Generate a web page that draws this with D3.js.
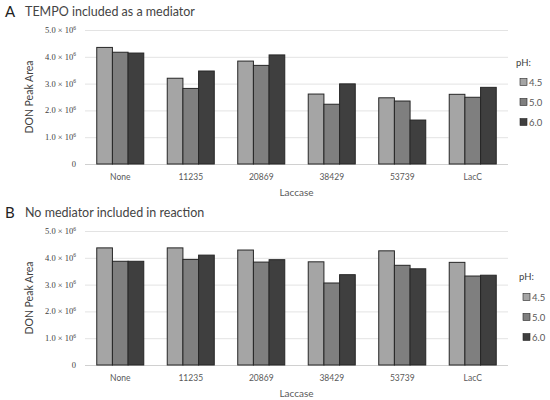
<!DOCTYPE html>
<html>
<head>
<meta charset="utf-8">
<script src="https://cdn.jsdelivr.net/npm/d3@7"></script>
<style>
  body { margin: 0; background: #fff; }
  svg { display: block; }
  text { font-family: Lato, "Open Sans", sans-serif; }
</style>
</head>
<body>
<svg id="chart" width="550" height="400"></svg>
<script>
// Data (DON peak area, x 10^6)
const laccases = ['None', '11235', '20869', '38429', '53739', 'LacC'];
const phLevels = ['4.5', '5.0', '6.0'];
const phColors = ['#a5a5a5', '#7f7f7f', '#3f3f3f'];
const yTicks = [0, 1, 2, 3, 4, 5];

// Panel A: TEMPO as mediator
const tempoPh45 = [4.35, 3.20, 3.84, 2.61, 2.47, 2.60];
const tempoPh50 = [4.17, 2.82, 3.68, 2.23, 2.35, 2.49];
const tempoPh60 = [4.14, 3.47, 4.07, 2.99, 1.64, 2.86];

// Panel B: no mediator
const noMedPh45 = [4.37, 4.37, 4.29, 3.85, 4.26, 3.83];
const noMedPh50 = [3.87, 3.94, 3.84, 3.06, 3.72, 3.32];
const noMedPh60 = [3.87, 4.10, 3.93, 3.37, 3.59, 3.35];

const panels = [
    { letter: 'A', title: 'TEMPO included as a mediator', series: [tempoPh45, tempoPh50, tempoPh60], top: 0, legendX: 516 },
    { letter: 'B', title: 'No mediator included in reaction', series: [noMedPh45, noMedPh50, noMedPh60], top: 201, legendX: 519 }
];

const svg = d3.select('#chart');

const x = d3.scaleBand()
    .domain(laccases)
    .range([85, 508])
    .paddingInner(0.333)
    .paddingOuter(0.1667);

const xSub = d3.scaleBand()
    .domain(phLevels)
    .range([0, x.bandwidth()]);

panels.forEach(p => {
    const g = svg.append('g').attr('transform', `translate(0,${p.top})`);
    const y = d3.scaleLinear().domain([0, 5]).range([164, 30]);

    // titles
    g.append('text')
        .attr('x', 5).attr('y', 17)
        .attr('font-size', 15)
        .attr('fill', '#222')
        .text(p.letter);
    g.append('text')
        .attr('x', 25).attr('y', 16)
        .attr('font-size', 12.5)
        .attr('fill', '#444')
        .text(p.title);

    // gridlines
    g.append('g')
        .selectAll('line')
        .data(yTicks)
        .enter()
        .append('line')
        .attr('x1', 85).attr('x2', 508)
        .attr('y1', d => y(d) + 0.5).attr('y2', d => y(d) + 0.5)
        .attr('stroke', d => d === 0 ? '#d0d0d0' : '#e3e3e3')
        .attr('stroke-width', 1);

    // y tick labels
    const yl = g.append('g')
        .selectAll('text')
        .data(yTicks)
        .enter()
        .append('text')
        .attr('x', 76)
        .attr('y', d => y(d) + 3)
        .attr('text-anchor', 'end')
        .attr('font-size', 8.5)
        .attr('fill', '#404040')
        .style('font-family', '"Liberation Serif", "DejaVu Serif", serif');
    yl.each(function(d) {
        const t = d3.select(this);
        if (d === 0) { t.text('0'); return; }
        t.append('tspan').text(d.toFixed(1) + ' \u00d7 10');
        t.append('tspan').attr('font-size', 5.5).attr('dy', -3.5).text('6');
    });

    // bars
    const groups = g.append('g')
        .selectAll('g')
        .data(laccases)
        .enter()
        .append('g')
        .attr('transform', d => `translate(${x(d)},0)`);

    groups.selectAll('rect')
        .data((d, i) => phLevels.map((ph, j) => ({ ph, j, v: p.series[j][i] })))
        .enter()
        .append('rect')
        .attr('x', d => xSub(d.ph))
        .attr('y', d => y(d.v))
        .attr('width', xSub.bandwidth())
        .attr('height', d => y(0) - y(d.v))
        .attr('fill', d => phColors[d.j])
        .attr('stroke', '#262626')
        .attr('stroke-width', 1);

    // x tick labels
    g.append('g')
        .selectAll('text')
        .data(laccases)
        .enter()
        .append('text')
        .attr('x', d => x(d) + x.bandwidth() / 2)
        .attr('y', 180)
        .attr('text-anchor', 'middle')
        .attr('font-size', 8.5)
        .attr('fill', '#595959')
        .text(d => d);

    // axis titles
    g.append('text')
        .attr('x', 296.5).attr('y', 196)
        .attr('text-anchor', 'middle')
        .attr('font-size', 10)
        .attr('fill', '#595959')
        .text('Laccase');
    g.append('text')
        .attr('transform', `translate(33,${(y(0) + y(5)) / 2}) rotate(-90)`)
        .attr('text-anchor', 'middle')
        .attr('font-size', 10.5)
        .attr('fill', '#404040')
        .text('DON Peak Area');

    // legend
    const lg = g.append('g').attr('transform', `translate(${p.legendX},0)`);
    lg.append('text')
        .attr('x', 0).attr('y', p.letter === 'A' ? 66 : 79)
        .attr('font-size', 9.5)
        .attr('fill', '#404040')
        .text('pH:');
    const rowY = p.letter === 'A' ? 82 : 96;
    phLevels.forEach((ph, j) => {
        lg.append('rect')
            .attr('x', 4).attr('y', rowY + j * 20 - 3.5)
            .attr('width', 7).attr('height', 7)
            .attr('fill', phColors[j])
            .attr('stroke', '#262626')
            .attr('stroke-width', 0.6);
        lg.append('text')
            .attr('x', 13).attr('y', rowY + j * 20 + 3.5)
            .attr('font-size', 9.5)
            .attr('fill', '#595959')
            .text(ph);
    });
});
</script>
</body>
</html>
